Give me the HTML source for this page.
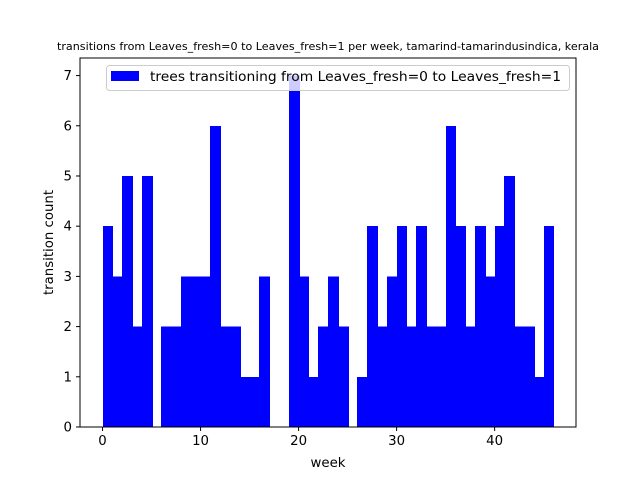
<!DOCTYPE html>
<html><head><meta charset="utf-8"><style>
body{margin:0;background:#fff;}
svg{font-family:"DejaVu Sans","Liberation Sans",sans-serif;}
</style></head><body>
<svg id="chart" width="640" height="480" xmlns="http://www.w3.org/2000/svg">
<rect width="640" height="480" fill="#fff"/>
<text x="328" y="50" font-size="10.5" text-anchor="middle" textLength="542" lengthAdjust="spacingAndGlyphs">transitions from Leaves_fresh=0 to Leaves_fresh=1 per week, tamarind-tamarindusindica, kerala</text>
<g id="bars" shape-rendering="crispEdges"></g>
<g id="xticks"></g>
<g id="yticks"></g>
<rect x="80" y="58" width="496" height="369" fill="none" stroke="#000" stroke-width="1"/>
<text x="328" y="467" font-size="13.3" text-anchor="middle">week</text>
<text transform="translate(53,242.5) rotate(-90)" font-size="13.3" text-anchor="middle">transition count</text>
<g>
<rect x="106.5" y="65.5" width="463" height="25" rx="3" fill="#fff" fill-opacity="0.8" stroke="#ccc"/>
<rect x="111" y="71" width="28" height="10" fill="#0000ff"/>
<text x="150" y="81" font-size="13.3" textLength="411" lengthAdjust="spacingAndGlyphs">trees transitioning from Leaves_fresh=0 to Leaves_fresh=1</text>
</g>
</svg>
<script>
const binStarts = [0,1,2,3,4,5,6,7,8,9,10,11,12,13,14,15,16,17,18,19,20,21,22,23,24,25,26,27,28,29,30,31,32,33,34,35,36,37,38,39,40,41,42,43,44,45];
const counts = [4,3,5,2,5,0,2,2,3,3,3,6,2,2,1,1,3,0,0,7,3,1,2,3,2,0,1,4,2,3,4,2,4,2,2,6,4,2,4,3,4,5,2,2,1,4];
const binWidth = 1;
const xTicks = [0,10,20,30,40];
const yTicks = [0,1,2,3,4,5,6,7];

const NS="http://www.w3.org/2000/svg";
const X0=80,X1=576,Y0=427,Y1=58;
const xmin=-2.3,xmax=48.3,ymin=0,ymax=7.35;
const sx=v=>X0+(v-xmin)/(xmax-xmin)*(X1-X0);
const sy=v=>Y0-(v-ymin)/(ymax-ymin)*(Y0-Y1);
const bars=document.getElementById('bars');
binStarts.forEach((b,i)=>{
  if(!counts[i])return;
  const r=document.createElementNS(NS,'rect');
  const x=Math.round(sx(b)), x2=Math.round(sx(b+binWidth));
  r.setAttribute('x',x);
  r.setAttribute('width',x2-x+1);
  r.setAttribute('y',sy(counts[i]));
  r.setAttribute('height',sy(0)-sy(counts[i]));
  r.setAttribute('fill','#0000ff');
  
  
  bars.appendChild(r);
});
const xg=document.getElementById('xticks');
xTicks.forEach(t=>{
  const x=sx(t);
  const l=document.createElementNS(NS,'line');
  l.setAttribute('x1',x);l.setAttribute('x2',x);l.setAttribute('y1',Y0);l.setAttribute('y2',Y0+4);
  l.setAttribute('stroke','#000');
  
  
  xg.appendChild(l);
  const tx=document.createElementNS(NS,'text');
  tx.setAttribute('x',x);tx.setAttribute('y',Y0+18);
  tx.setAttribute('font-size','13.3');tx.setAttribute('text-anchor','middle');
  tx.textContent=t;
  
  
  xg.appendChild(tx);
});
const yg=document.getElementById('yticks');
yTicks.forEach(t=>{
  const y=sy(t);
  const l=document.createElementNS(NS,'line');
  l.setAttribute('x1',X0-4);l.setAttribute('x2',X0);l.setAttribute('y1',y);l.setAttribute('y2',y);
  l.setAttribute('stroke','#000');
  
  
  yg.appendChild(l);
  const tx=document.createElementNS(NS,'text');
  tx.setAttribute('x',X0-8);tx.setAttribute('y',y+4.5);
  tx.setAttribute('font-size','13.3');tx.setAttribute('text-anchor','end');
  tx.textContent=t;
  
  
  yg.appendChild(tx);
});
</script>
</body></html>
